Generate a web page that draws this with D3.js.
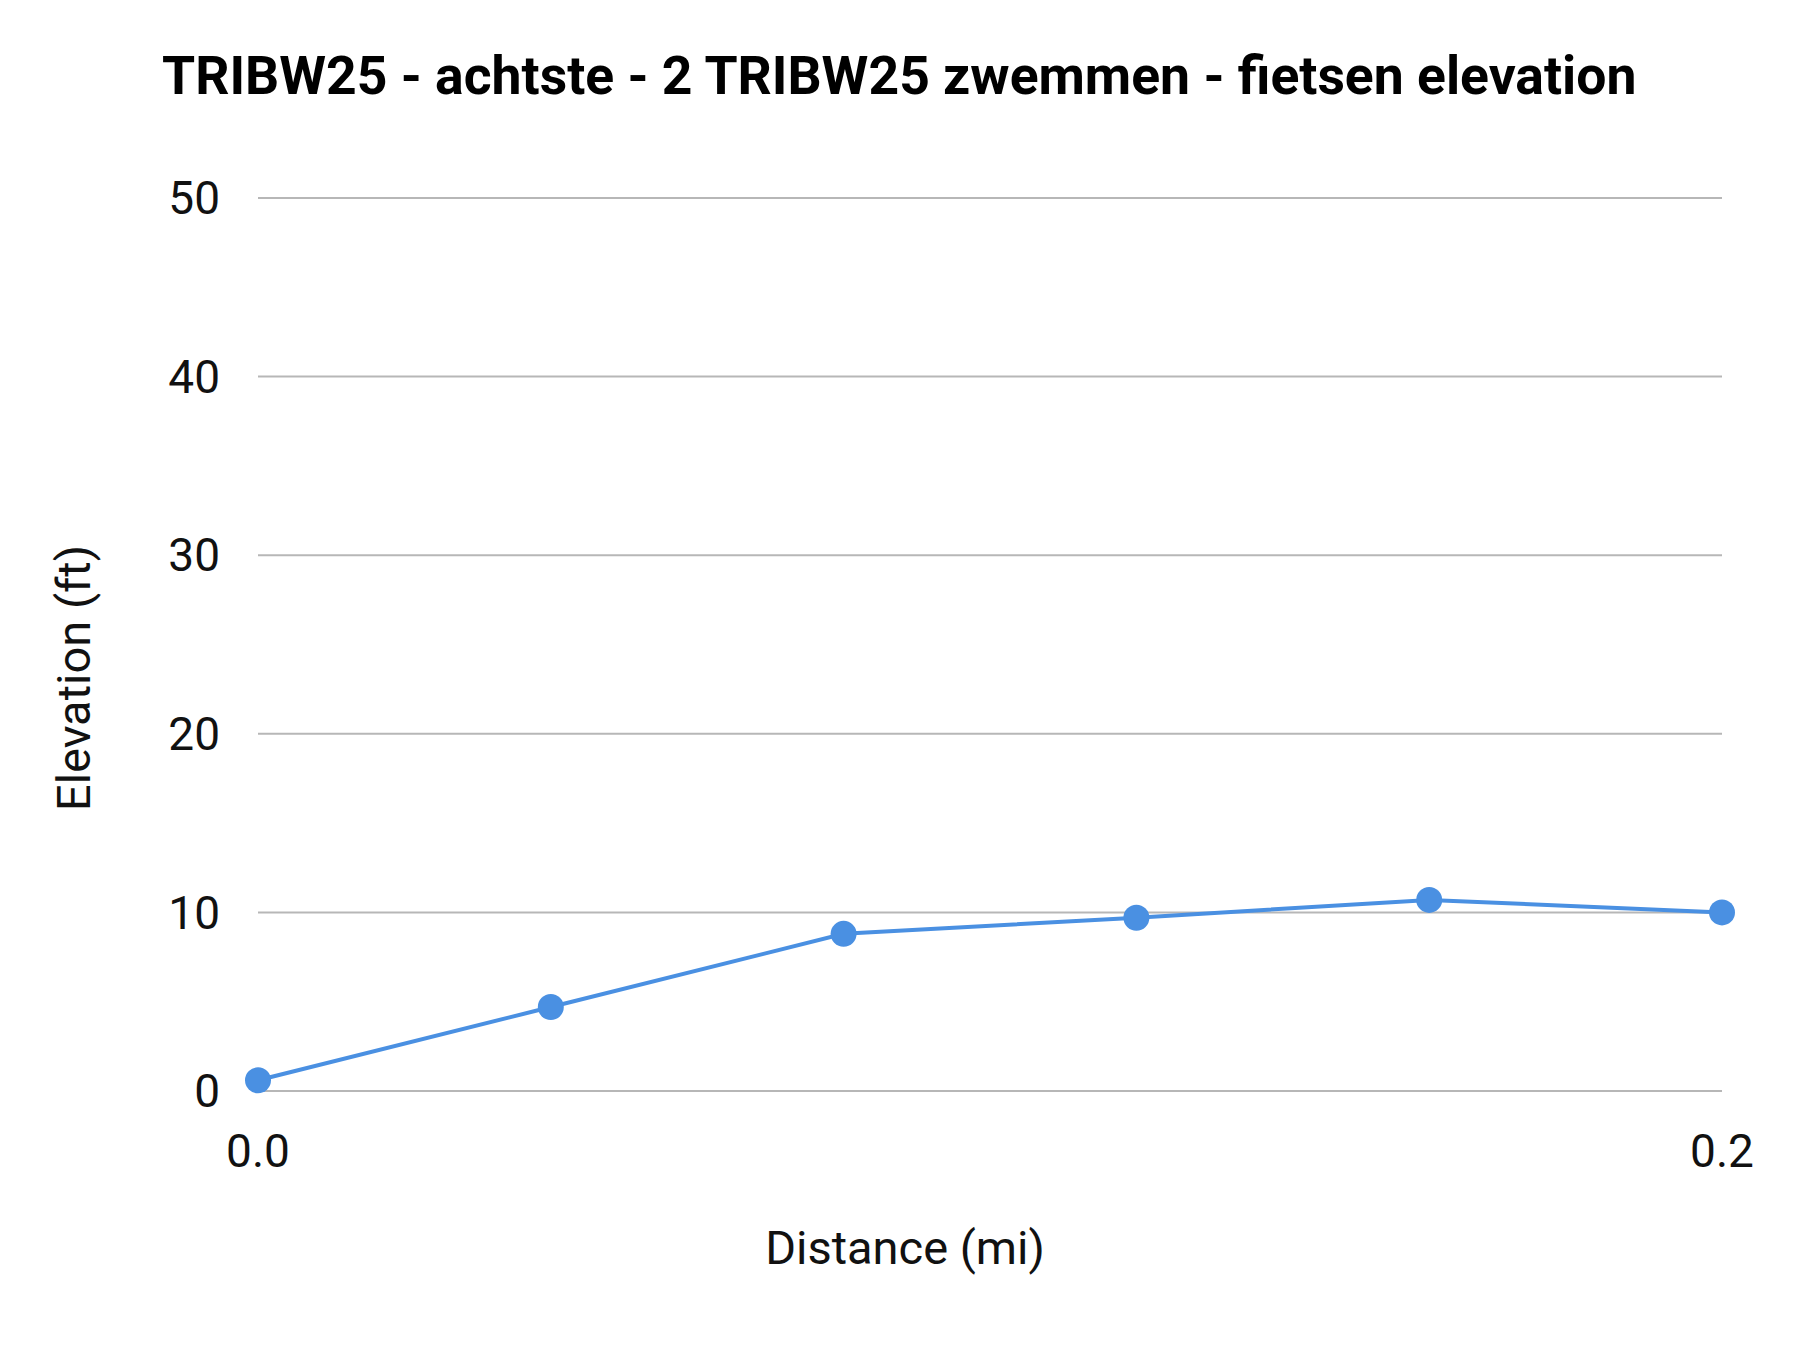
<!DOCTYPE html>
<html>
<head>
<meta charset="utf-8">
<script src="https://cdn.jsdelivr.net/npm/d3@7"></script>
<style>
  body { margin: 0; background: #fff; }
  text { font-family: Roboto, sans-serif; }
</style>
</head>
<body>
<svg width="1800" height="1350"></svg>
<script>
// data
var distances = [0, 0.04, 0.08, 0.12, 0.16, 0.2];
var elevations = [0.6, 4.7, 8.8, 9.7, 10.7, 10.0];
var yTicks = [0, 10, 20, 30, 40, 50];
var xTicks = [0, 0.2];

var svg = d3.select("svg"),
  margin = { top: 198, right: 78, bottom: 259, left: 258 },
  width = 1800 - margin.left - margin.right,
  height = 1350 - margin.top - margin.bottom,
  g = svg.append("g").attr("transform", "translate(" + margin.left + "," + margin.top + ")");

var x = d3.scaleLinear().domain([0, 0.2]).range([0, width]);
var y = d3.scaleLinear().domain([0, 50]).range([height, 0]);

// gridlines
g.selectAll(".grid").data(yTicks).enter().append("line")
  .attr("x1", 0).attr("x2", width)
  .attr("y1", d => y(d)).attr("y2", d => y(d))
  .attr("stroke", "#b7b7b7").attr("stroke-width", 2);

// y tick labels
g.selectAll(".ylab").data(yTicks).enter().append("text")
  .attr("x", -38).attr("y", d => y(d)).attr("dy", "0.35em")
  .attr("text-anchor", "end").attr("font-size", 46).attr("fill", "#111")
  .text(d => d);

// x tick labels
g.selectAll(".xlab").data(xTicks).enter().append("text")
  .attr("x", d => x(d)).attr("y", height + 76)
  .attr("text-anchor", "middle").attr("font-size", 46).attr("fill", "#111")
  .text(d => d.toFixed(1));

var pts = distances.map((d, i) => [d, elevations[i]]);
g.append("path").datum(pts)
  .attr("fill", "none").attr("stroke", "#4a90e2").attr("stroke-width", 4)
  .attr("d", d3.line().x(d => x(d[0])).y(d => y(d[1])));

g.selectAll(".pt").data(pts).enter().append("circle")
  .attr("cx", d => x(d[0])).attr("cy", d => y(d[1])).attr("r", 13)
  .attr("fill", "#4a90e2");

// titles
svg.append("text").attr("x", 162).attr("y", 94)
  .attr("font-size", 53.5).attr("font-weight", "bold").attr("fill", "#000")
  .text("TRIBW25 - achtste - 2 TRIBW25 zwemmen - fietsen elevation");

svg.append("text").attr("x", 905).attr("y", 1264)
  .attr("text-anchor", "middle").attr("font-size", 47).attr("fill", "#111")
  .text("Distance (mi)");

svg.append("text")
  .attr("transform", "translate(90,678) rotate(-90)")
  .attr("text-anchor", "middle").attr("font-size", 47).attr("fill", "#111")
  .text("Elevation (ft)");
</script>
</body>
</html>
